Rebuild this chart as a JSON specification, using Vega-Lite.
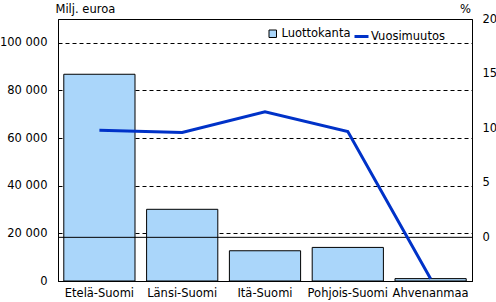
{
  "$schema": "https://vega.github.io/schema/vega-lite/v6.json",
  "width": 414,
  "height": 262,
  "autosize": {"type": "none"},
  "padding": {"left": 58, "top": 19, "right": 24, "bottom": 21},
  "background": "white",
  "config": {
    "font": "DejaVu Sans",
    "view": {"stroke": "black", "strokeWidth": 1},
    "axis": {
      "labelFont": "DejaVu Sans",
      "labelFontSize": 11.5,
      "labelColor": "black",
      "titleFont": "DejaVu Sans",
      "titleFontSize": 11.5,
      "titleFontWeight": "normal",
      "titleColor": "black",
      "domainColor": "black",
      "ticks": false
    },
    "legend": {
      "labelFont": "DejaVu Sans",
      "labelFontSize": 11.5,
      "labelColor": "black"
    }
  },
  "data": {
    "values": [
      {"alue": "Etelä-Suomi", "luottokanta": 86800, "vuosimuutos": 9.8},
      {"alue": "Länsi-Suomi", "luottokanta": 30100, "vuosimuutos": 9.6},
      {"alue": "Itä-Suomi", "luottokanta": 12700, "vuosimuutos": 11.5},
      {"alue": "Pohjois-Suomi", "luottokanta": 14100, "vuosimuutos": 9.7},
      {"alue": "Ahvenanmaa", "luottokanta": 1000, "vuosimuutos": -3.8}
    ]
  },
  "encoding": {
    "x": {
      "field": "alue",
      "type": "nominal",
      "sort": ["Etelä-Suomi", "Länsi-Suomi", "Itä-Suomi", "Pohjois-Suomi", "Ahvenanmaa"],
      "scale": {"paddingInner": 0.14, "paddingOuter": 0.07},
      "axis": {"title": null, "labelAngle": 0, "labelPadding": 6, "grid": false, "domainColor": "black"}
    }
  },
  "layer": [
    {
      "mark": {"type": "bar", "stroke": "black", "strokeWidth": 1},
      "encoding": {
        "y": {
          "field": "luottokanta",
          "type": "quantitative",
          "scale": {"domain": [0, 110000], "nice": false},
          "axis": {
            "orient": "left",
            "values": [0, 20000, 40000, 60000, 80000, 100000],
            "labelExpr": "replace(format(datum.value, ','), ',', ' ')",
            "labelPadding": 11,
            "grid": true,
            "gridColor": "black",
            "gridDash": [4, 3],
            "gridWidth": 1,
            "title": "Milj. euroa",
            "titleAngle": 0,
            "titleAlign": "left",
            "titleBaseline": "middle",
            "titleX": -3,
            "titleY": -10
          }
        },
        "fill": {
          "datum": "Luottokanta",
          "scale": {"domain": ["Luottokanta"], "range": ["#aad6fa"]},
          "legend": {
            "title": null,
            "orient": "none",
            "legendX": 209,
            "legendY": 9,
            "padding": 0,
            "symbolType": "square",
            "symbolSize": 56,
            "symbolStrokeColor": "black",
            "symbolStrokeWidth": 1,
            "labelOffset": 3
          }
        }
      }
    },
    {
      "layer": [
        {
          "data": {"values": [{"nolla": 0}]},
          "mark": {"type": "rule", "color": "black", "strokeWidth": 1},
          "encoding": {
            "x": null,
            "y": {
              "field": "nolla",
              "type": "quantitative",
              "scale": {"domain": [-4, 20], "nice": false},
              "axis": {
                "orient": "right",
                "values": [0, 5, 10, 15, 20],
                "labelPadding": 10,
                "grid": false,
                "title": "%",
                "titleAngle": 0,
                "titleAlign": "center",
                "titleBaseline": "middle",
                "titleX": -7,
                "titleY": -10
              }
            }
          }
        },
        {
          "mark": {"type": "line", "color": "#0032c8", "strokeWidth": 3},
          "encoding": {
            "y": {
              "field": "vuosimuutos",
              "type": "quantitative",
              "scale": {"domain": [-4, 20], "nice": false},
              "axis": {
                "orient": "right",
                "values": [0, 5, 10, 15, 20],
                "labelPadding": 10,
                "grid": false,
                "title": "%",
                "titleAngle": 0,
                "titleAlign": "center",
                "titleBaseline": "middle",
                "titleX": -7,
                "titleY": -10
              }
            },
            "stroke": {
              "datum": "Vuosimuutos",
              "scale": {"domain": ["Vuosimuutos"], "range": ["#0032c8"]},
              "legend": {
                "title": null,
                "orient": "none",
                "legendX": 295,
                "legendY": 9,
                "padding": 0,
                "symbolType": "stroke",
                "symbolSize": 196,
                "symbolStrokeWidth": 3,
                "labelOffset": 1
              }
            }
          }
        }
      ]
    }
  ],
  "resolve": {"scale": {"y": "independent"}}
}
